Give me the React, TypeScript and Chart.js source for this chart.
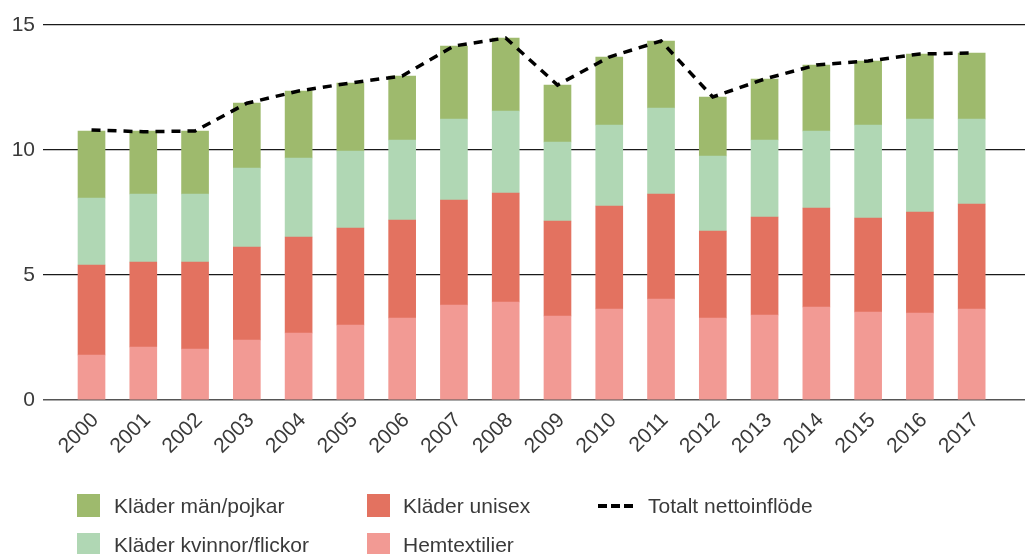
import React, { useEffect, useRef } from "react";
import { Chart, registerables } from "chart.js";

Chart.register(...registerables);

const years = ["2000","2001","2002","2003","2004","2005","2006","2007","2008","2009","2010","2011","2012","2013","2014","2015","2016","2017"];
const hemtextilier = [1.8,2.12,2.04,2.4,2.68,3.0,3.28,3.8,3.92,3.36,3.64,4.04,3.28,3.4,3.72,3.52,3.48,3.64];
const kladerUnisex = [3.6,3.4,3.48,3.72,3.84,3.88,3.92,4.2,4.36,3.8,4.12,4.2,3.48,3.92,3.96,3.76,4.04,4.2];
const kladerKvinnor = [2.68,2.72,2.72,3.16,3.16,3.08,3.2,3.24,3.28,3.16,3.24,3.44,3.0,3.08,3.08,3.72,3.72,3.4];
const kladerMan = [2.68,2.52,2.52,2.6,2.68,2.72,2.56,2.92,2.92,2.28,2.72,2.68,2.36,2.44,2.64,2.56,2.6,2.64];
const totalt = [10.8,10.73,10.76,11.87,12.36,12.68,12.96,14.16,14.48,12.6,13.72,14.36,12.12,12.84,13.4,13.56,13.84,13.88];
const yTicks = [0, 5, 10, 15];

const COLORS = {
  man: "#9eba6d",
  kvinnor: "#b0d7b4",
  unisex: "#e37260",
  hem: "#f29a94",
};

const FONT = "'Liberation Sans', Arial, sans-serif";
const TEXT = "#3a3a3a";

const pts = (arr: number[]) => arr.map((v, i) => ({ x: i, y: v }));

export default function App() {
  const ref = useRef<HTMLCanvasElement | null>(null);

  useEffect(() => {
    if (!ref.current) return;
    const chart = new Chart(ref.current, {
      type: "bar",
      data: {
        datasets: [
          {
            type: "line",
            label: "Totalt nettoinflöde",
            data: pts(totalt),
            borderColor: "#000",
            borderWidth: 3.5,
            borderDash: [9, 7],
            pointRadius: 0,
            fill: false,
            tension: 0,
            stack: "line",
            order: 0,
          } as any,
          { label: "Hemtextilier", data: pts(hemtextilier), backgroundColor: COLORS.hem, stack: "a", order: 1, barThickness: 27 },
          { label: "Kläder unisex", data: pts(kladerUnisex), backgroundColor: COLORS.unisex, stack: "a", order: 1, barThickness: 27 },
          { label: "Kläder kvinnor/flickor", data: pts(kladerKvinnor), backgroundColor: COLORS.kvinnor, stack: "a", order: 1, barThickness: 27 },
          { label: "Kläder män/pojkar", data: pts(kladerMan), backgroundColor: COLORS.man, stack: "a", order: 1, barThickness: 27 },
        ],
      },
      options: {
        responsive: false,
        animation: false,
        layout: { padding: { top: 25, left: 0, right: 0, bottom: 0 } },
        plugins: { legend: { display: false }, tooltip: { enabled: false } },
        scales: {
          x: {
            type: "linear",
            stacked: true,
            offset: false,
            min: -0.937,
            max: 18.03,
            grid: { display: false, offset: false },
            border: { display: false },
            ticks: {
              stepSize: 1,
              includeBounds: false,
              autoSkip: false,
              maxRotation: 45,
              minRotation: 45,
              padding: 0,
              labelOffset: 4,
              color: TEXT,
              font: { family: FONT, size: 21 },
              callback: (v: any) => {
                const n = Number(v);
                return Number.isInteger(n) && n >= 0 && n < years.length ? years[n] : "";
              },
            },
            afterFit: (s: any) => {
              s.height = 154;
              s.paddingLeft = 0;
              s.paddingRight = 0;
            },
          },
          y: {
            stacked: true,
            min: 0,
            max: 15,
            border: { display: false },
            grid: {
              drawTicks: false,
              color: (ctx: any) => (ctx.tick && ctx.tick.value === 0 ? "#555" : "#1a1a1a"),
              lineWidth: (ctx: any) => (ctx.tick && ctx.tick.value === 0 ? 1.6 : 1.2),
            },
            afterBuildTicks: (s: any) => { s.ticks = yTicks.map((v) => ({ value: v })); },
            ticks: {
              padding: 8,
              color: TEXT,
              font: { family: FONT, size: 21 },
            },
            afterFit: (s: any) => { s.width = 43; },
          },
        },
      } as any,
    });
    return () => chart.destroy();
  }, []);

  const legendText: React.CSSProperties = {
    position: "absolute",
    fontFamily: FONT,
    fontSize: 21,
    color: TEXT,
    lineHeight: "24px",
    whiteSpace: "nowrap",
  };
  const box = (left: number, top: number, color: string) => (
    <div style={{ position: "absolute", left, top, width: 23, height: 23, background: color }} />
  );

  return (
    <div style={{ position: "absolute", left: 0, top: 0, width: 1025, height: 554, background: "#fff", overflow: "hidden" }}>
      <canvas ref={ref} width={1025} height={554} style={{ display: "block", position: "absolute", left: 0, top: 0 }} />
      {box(77, 494, COLORS.man)}
      <div style={{ ...legendText, left: 114, top: 494 }}>Kläder män/pojkar</div>
      {box(77, 533, COLORS.kvinnor)}
      <div style={{ ...legendText, left: 114, top: 533 }}>Kläder kvinnor/flickor</div>
      {box(367, 494, COLORS.unisex)}
      <div style={{ ...legendText, left: 403, top: 494 }}>Kläder unisex</div>
      {box(367, 533, COLORS.hem)}
      <div style={{ ...legendText, left: 403, top: 533 }}>Hemtextilier</div>
      <div style={{ position: "absolute", left: 598, top: 504, width: 9, height: 4, background: "#000" }} />
      <div style={{ position: "absolute", left: 611, top: 504, width: 9, height: 4, background: "#000" }} />
      <div style={{ position: "absolute", left: 624, top: 504, width: 9, height: 4, background: "#000" }} />
      <div style={{ ...legendText, left: 648, top: 494 }}>Totalt nettoinflöde</div>
    </div>
  );
}
